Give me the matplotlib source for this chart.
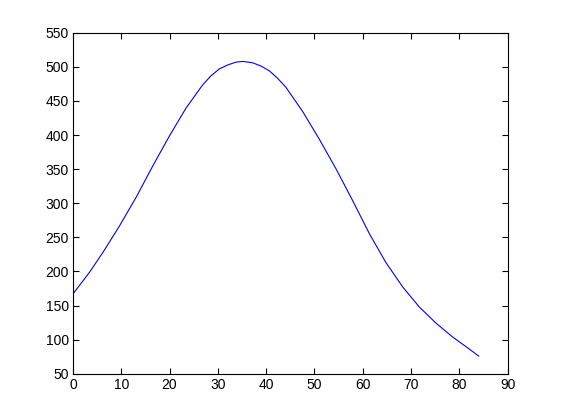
import matplotlib
matplotlib.use("Agg")
import matplotlib.pyplot as plt

# values
x_vals = [0.0, 3.45, 6.21, 9.66, 13.1, 16.55, 20.0, 23.45, 26.9, 28.6,
          30.3, 32.1, 33.8, 35.2, 37.2, 39.0, 40.7, 42.4, 44.1, 47.6,
          51.0, 54.5, 57.9, 61.4, 64.8, 68.3, 71.7, 75.2, 78.6, 82.1, 84.0]
y_vals = [167, 199, 228, 267, 309, 355, 399, 440, 474, 487,
          497, 503, 507, 508, 506, 501, 494, 483, 470, 434,
          394, 350, 304, 255, 213, 177, 148, 124, 104, 86, 76]

x_ticks = list(range(0, 91, 10))
y_ticks = list(range(50, 551, 50))

plt.rcParams["font.family"] = ["Liberation Sans", "DejaVu Sans"]

fig = plt.figure(figsize=(5.61, 4.2), dpi=100, facecolor="white")
ax = fig.add_axes([0.13, 0.11, 0.775, 0.812])
ax.plot(x_vals, y_vals, color="#0000ff", linewidth=0.8)

ax.set_xlim(0, 90)
ax.set_ylim(50, 550)
ax.set_xticks(x_ticks)
ax.set_yticks(y_ticks)
ax.tick_params(direction="in", top=True, right=True, length=4, width=0.8,
               labelsize=10, pad=3)
for sp in ax.spines.values():
    sp.set_linewidth(0.8)

fig.savefig("out.png", dpi=100, facecolor="white")
